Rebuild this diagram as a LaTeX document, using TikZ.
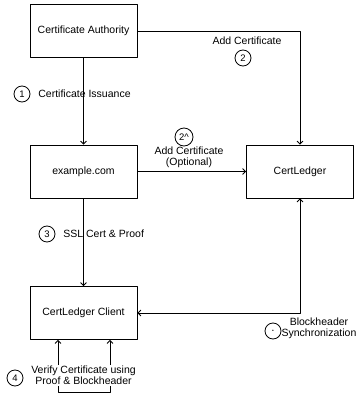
\documentclass[tikz,border=0pt]{standalone}
\usepackage{fontspec}
\setmainfont{Liberation Sans}
\usetikzlibrary{arrows.meta}
\begin{document}
\begin{tikzpicture}[>={Straight Barb[length=3pt,width=6pt]},line join=round,line width=0.8pt,x=1pt,y=-1pt,
	font=\fontsize{10.5}{11}\selectfont,
	box/.style={draw,minimum width=107pt,minimum height=53pt,inner sep=0pt},
	num/.style={draw,circle,minimum size=16pt,inner sep=0pt,font=\fontsize{9.5}{10}\selectfont},
	lbl/.style={inner sep=1pt,align=center}]
	\useasboundingbox (0,0) rectangle (358,394);
	\node[box] (ca) at (83.5,31) {Certificate Authority};
	\node[box] (web) at (83.5,171.5) {example.com};
	\node[box] (ledger) at (300,171.5) {CertLedger};
	\node[box] (client) at (83.5,313) {CertLedger Client};
	\coordinate (loopl) at (58,392);
	\coordinate (loopr) at (110,392);
	
	\draw[->] (ca) -- (web);
	\draw[->] (ca.east) -| (ledger.north);
	\draw[->] (web) -- (ledger);
	\draw[->] (web) -- (client);
	\draw[<->] (ledger.south) |- (client.east);
	\draw[<->] (client.south -| loopl) -- (loopl) -- (loopr) -- (client.south -| loopr);
	
	\node[num] (n1) at (22,94) {1};
	\node[lbl,anchor=west] (issue) at (37,94) {Certificate Issuance};
	\node[num] (n2) at (243,58) {2};
	\node[lbl] (add) at (247,41) {Add Certificate};
	\node[num,minimum size=18pt] (n2b) at (184,137) {2\textasciicircum};
	\node[lbl] (addopt) at (189,157.5) {Add Certificate\\(Optional)};
	\node[num] (n3) at (47,234) {3};
	\node[lbl,anchor=west] (ssl) at (62,234) {SSL Cert \& Proof};
	\node[num] (n4) at (15,378) {4};
	\node[lbl,fill=white] (verify) at (83.5,375.5) {Verify Certificate using\\Proof \& Blockheader};
	\node[num,font=\fontsize{5}{5}\selectfont] (nsync) at (273,331) {\textbullet};
	\node[lbl] (sync) at (319,328) {Blockheader\\Synchronization};
\end{tikzpicture}
\end{document}
